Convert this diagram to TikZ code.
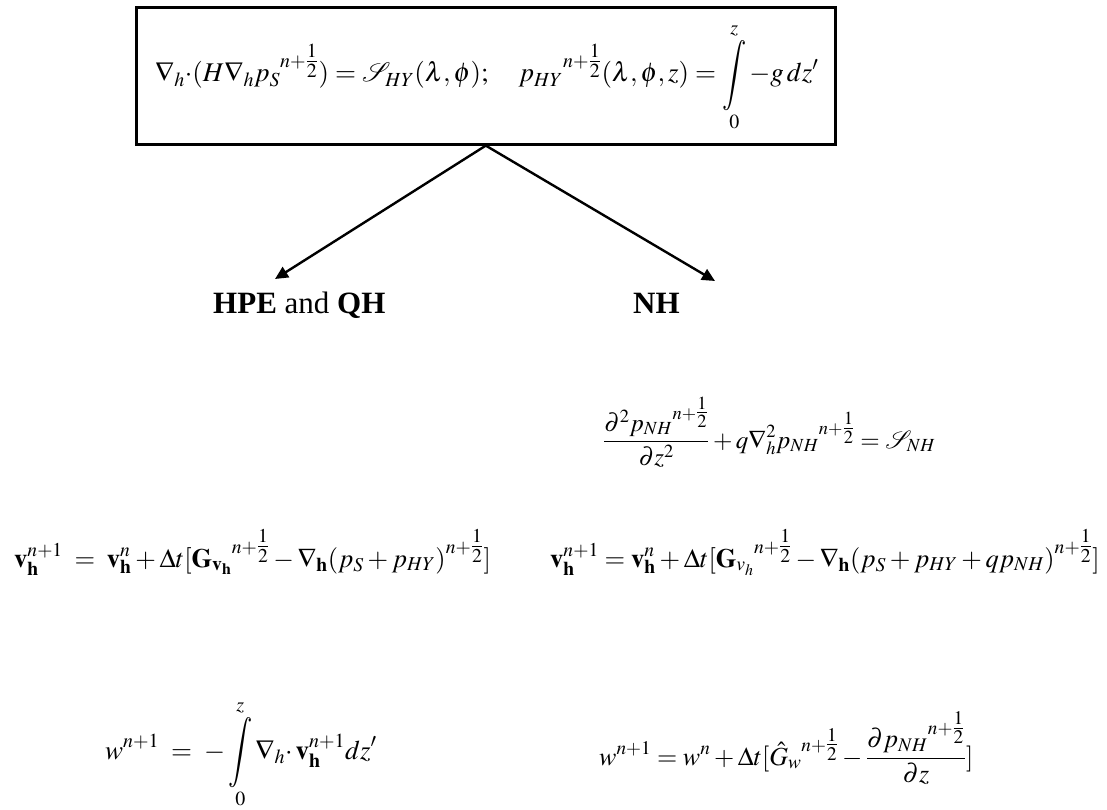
\documentclass[tikz,border=0pt]{standalone}
\usepackage{amsmath}
\usepackage{mathptmx}
\usepackage{graphicx}
\usepackage[no-math]{fontspec}
\setmainfont{Liberation Serif}
\usetikzlibrary{arrows.meta}
\newcommand\halfexp{\genfrac{}{}{}{1}{1}{2}}
\newcommand\hx{{}^{\raisebox{3pt}{$\scriptstyle n+\halfexp$}}}
\newcommand\tallint{\mathop{\vcenter{\hbox{\scalebox{1}[1.3]{$\displaystyle\int$}}}}\limits}
\tikzset{
  eq/.style={anchor=base west, inner sep=0pt, font=\fontsize{27}{31}\selectfont},
  eqs/.style={anchor=base west, inner sep=0pt, font=\fontsize{26.5}{30}\selectfont},
  eqw/.style={anchor=base west, inner sep=0pt, font=\fontsize{26}{30}\selectfont},
  eqp/.style={anchor=base west, inner sep=0pt, font=\fontsize{25}{29}\selectfont},
  lbl/.style={anchor=base west, inner sep=0pt, font=\fontsize{31}{35}\selectfont},
  conn/.style={line width=2.4pt, -{Triangle[length=13pt,width=12pt]}}
}
\begin{document}
\begin{tikzpicture}[x=1pt,y=-1pt]
\useasboundingbox (0,0) rectangle (1107,810);
\node[draw, line width=2.6pt, minimum width=699pt, minimum height=137pt, inner sep=0pt, anchor=north west] (box) at (135,6) {};
\node[eq] (eqtop) at (155,82) {$\displaystyle \nabla_{h}{\cdot}(H\nabla_{h}p_{S}\hx) = \mathcal{S}_{HY}(\lambda,\phi);\quad p_{HY}\hx(\lambda,\phi,z) = \tallint_{0}^{z}-g\,dz'$};
\coordinate (tipL) at (275,279);
\coordinate (tipR) at (715,281);
\draw[conn] (box.south) -- (tipL);
\draw[conn] (box.south) -- (tipR);
\node[lbl] (hpe) at (213,313) {\textbf{HPE} and \textbf{QH}};
\node[lbl] (nh) at (633,313) {\textbf{NH}};
\node[eqp] (poisson) at (603,448) {$\displaystyle \frac{\partial^{2}p_{NH}\hx}{\partial z^{2}} + q\nabla_{h}^{2}p_{NH}\hx = \mathcal{S}_{NH}$};
\node[eqs] (vhpe) at (14,567) {$\displaystyle \mathbf{v}_{\mathbf{h}}^{n+1} \;=\; \mathbf{v}_{\mathbf{h}}^{n} + \Delta t[\mathbf{G}_{\mathbf{v}_{\mathbf{h}}}\hx - \nabla_{\mathbf{h}}(p_{S}+p_{HY})\hx]$};
\node[eqs] (vnh) at (550,567) {$\displaystyle \mathbf{v}_{\mathbf{h}}^{n+1} = \mathbf{v}_{\mathbf{h}}^{n} + \Delta t[\mathbf{G}_{v_{h}}\hx - \nabla_{\mathbf{h}}(p_{S}+p_{HY}+qp_{NH})\hx]$};
\node[eq] (whpe) at (105,759) {$\displaystyle w^{n+1} \;=\; -\tallint_{0}^{z}\nabla_{h}{\cdot}\,\mathbf{v}_{\mathbf{h}}^{n+1}dz'$};
\node[eqw] (wnh) at (599,765) {$\displaystyle w^{n+1} = w^{n} + \Delta t[\hat{G}_{w}\hx - \frac{\partial p_{NH}\hx}{\partial z}]$};
\end{tikzpicture}
\end{document}
